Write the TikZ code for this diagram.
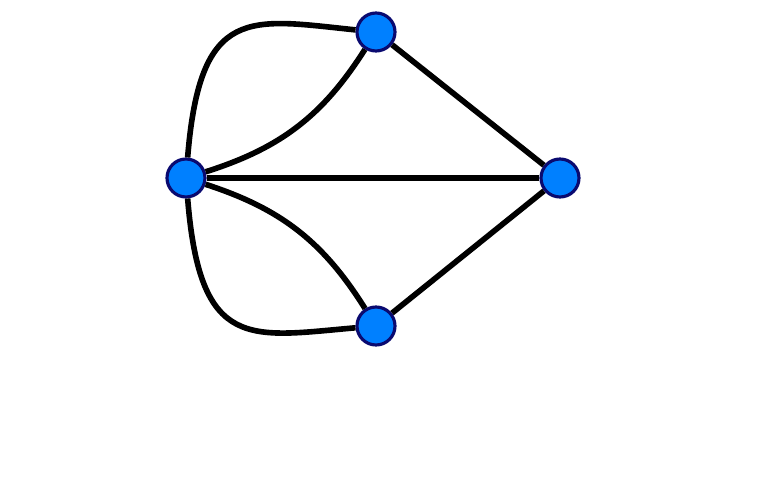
\documentclass[tikz,border=0pt]{standalone}
\definecolor{vertexblue}{HTML}{0080FF}
\definecolor{vertexrim}{HTML}{0A0A70}
\begin{document}
\begin{tikzpicture}[vertex/.style={circle, draw=vertexrim, fill=vertexblue, line width=0.9pt, minimum size=0.38cm, inner sep=0pt},
    edge/.style={line width=1.6pt}]
    \useasboundingbox (0,0) rectangle (7.70,4.99);
    \node[vertex] (A) at (1.86, 3.21) {};
    \node[vertex] (B) at (3.76, 4.67) {};
    \node[vertex] (C) at (5.60, 3.21) {};
    \node[vertex] (D) at (3.76, 1.73) {};

    % 線を引く
    \draw[edge] (A) -- (C);
    \draw[edge] (B) -- (C);
    \draw[edge] (D) -- (C);
    \draw[edge] (A) to[bend right=20] (B);
    \draw[edge] (A) to[bend left=20] (D);
    \draw[edge] (A) .. controls (2.00, 4.95) and (2.50, 4.80) .. (B);
    \draw[edge] (A) .. controls (2.00, 1.47) and (2.50, 1.62) .. (D);
\end{tikzpicture}
\end{document}
